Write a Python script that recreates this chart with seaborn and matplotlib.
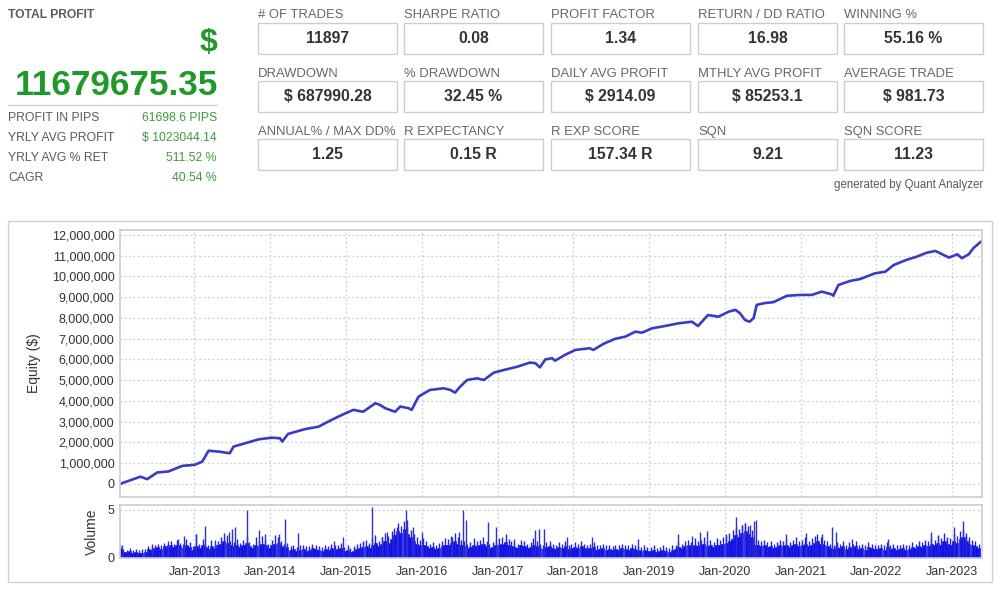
import matplotlib
matplotlib.use("Agg")
import matplotlib.pyplot as plt
import matplotlib.dates as mdates
from matplotlib.patches import Rectangle
from matplotlib.lines import Line2D
from matplotlib.ticker import FuncFormatter, FixedLocator
import seaborn as sns
import pandas as pd
import numpy as np

# ---------------- data ----------------
total_profit = "11679675.35"
summary_labels = ["PROFIT IN PIPS", "YRLY AVG PROFIT", "YRLY AVG % RET", "CAGR"]
summary_values = ["61698.6 PIPS", "$ 1023044.14", "511.52 %", "40.54 %"]

stat_labels = [
    ["# OF TRADES", "SHARPE RATIO", "PROFIT FACTOR", "RETURN / DD RATIO", "WINNING %"],
    ["DRAWDOWN", "% DRAWDOWN", "DAILY AVG PROFIT", "MTHLY AVG PROFIT", "AVERAGE TRADE"],
    ["ANNUAL% / MAX DD%", "R EXPECTANCY", "R EXP SCORE", "SQN", "SQN SCORE"],
]
stat_values = [
    ["11897", "0.08", "1.34", "16.98", "55.16 %"],
    ["$ 687990.28", "32.45 %", "$ 2914.09", "$ 85253.1", "$ 981.73"],
    ["1.25", "0.15 R", "157.34 R", "9.21", "11.23"],
]

equity_dates = [
    "2012-01-08", "2012-04-15", "2012-05-18", "2012-07-05", "2012-08-28", "2012-11-03",
    "2013-01-01", "2013-02-07", "2013-03-10", "2013-04-27", "2013-06-20", "2013-07-08",
    "2013-09-02", "2013-11-07", "2014-01-08", "2014-02-17", "2014-02-28", "2014-03-28",
    "2014-06-17", "2014-08-22", "2014-10-01", "2014-11-10", "2014-12-20", "2015-02-06",
    "2015-03-25", "2015-05-23", "2015-06-14", "2015-07-09", "2015-08-26", "2015-09-20",
    "2015-10-30", "2015-11-14", "2015-12-17", "2016-02-10", "2016-04-16", "2016-05-19",
    "2016-06-10", "2016-07-05", "2016-08-07", "2016-09-24", "2016-10-27", "2016-12-13",
    "2017-01-30", "2017-04-06", "2017-06-07", "2017-07-02", "2017-07-24", "2017-08-19",
    "2017-09-21", "2017-10-05", "2017-11-22", "2018-01-11", "2018-03-21", "2018-04-08",
    "2018-05-26", "2018-07-20", "2018-09-09", "2018-10-27", "2018-11-28", "2019-01-15",
    "2019-03-18", "2019-05-22", "2019-07-27", "2019-08-25", "2019-10-12", "2019-12-02",
    "2020-01-19", "2020-02-21", "2020-03-14", "2020-04-08", "2020-04-30", "2020-05-19",
    "2020-06-03", "2020-07-13", "2020-08-22", "2020-10-27", "2020-12-28", "2021-02-24",
    "2021-04-13", "2021-05-30", "2021-06-07", "2021-07-02", "2021-08-26", "2021-10-16",
    "2021-12-24", "2022-02-13", "2022-03-25", "2022-05-26", "2022-07-16", "2022-09-02",
    "2022-10-12", "2022-11-14", "2022-12-17", "2023-01-26", "2023-02-17", "2023-03-22",
    "2023-04-13", "2023-05-20",
]
equity_millions = [
    0.00, 0.35, 0.23, 0.55, 0.60, 0.87,
    0.92, 1.07, 1.60, 1.56, 1.48, 1.80,
    1.96, 2.15, 2.23, 2.20, 2.04, 2.41,
    2.64, 2.76, 2.97, 3.17, 3.36, 3.57,
    3.48, 3.89, 3.81, 3.65, 3.48, 3.73,
    3.65, 3.57, 4.21, 4.53, 4.61, 4.53,
    4.40, 4.69, 5.01, 5.09, 5.01, 5.36,
    5.49, 5.65, 5.85, 5.82, 5.62, 6.00,
    6.06, 5.94, 6.22, 6.46, 6.54, 6.46,
    6.75, 6.99, 7.10, 7.34, 7.29, 7.50,
    7.61, 7.74, 7.82, 7.61, 8.14, 8.06,
    8.30, 8.39, 8.23, 7.90, 7.82, 7.99,
    8.63, 8.72, 8.76, 9.07, 9.11, 9.11,
    9.27, 9.14, 9.07, 9.59, 9.78, 9.88,
    10.15, 10.23, 10.55, 10.80, 10.96, 11.15,
    11.23, 11.07, 10.91, 11.07, 10.88, 11.07,
    11.36, 11.68,
]

# semi-monthly base (dense) volume level, Jan-2012 .. May-2023
vol_2012 = [1.0, 0.6, 0.6, 0.7, 0.5, 0.6, 0.5, 0.5, 0.6, 0.9, 0.8, 1.0, 1.1, 0.9, 1.2, 1.0, 1.3, 1.1, 1.4, 1.2, 1.0, 1.3, 1.1, 0.8]
vol_2013 = [1.2, 1.0, 1.3, 1.1, 0.9, 1.2, 1.0, 1.3, 1.5, 1.8, 1.6, 1.3, 1.2, 1.4, 1.1, 1.3, 1.6, 1.2, 1.0, 1.4, 1.2, 1.5, 1.3, 1.0]
vol_2014 = [1.3, 1.5, 1.6, 1.2, 1.0, 1.1, 0.8, 0.9, 0.7, 0.8, 0.9, 0.7, 0.8, 1.0, 0.9, 0.8, 0.7, 0.9, 0.8, 1.0, 0.8, 0.9, 1.0, 0.7]
vol_2015 = [0.8, 0.6, 0.7, 0.9, 1.0, 1.1, 1.2, 1.0, 1.4, 1.6, 1.2, 1.5, 1.8, 1.6, 2.0, 2.4, 2.8, 2.6, 3.0, 2.5, 2.2, 1.8, 1.5, 1.3]
vol_2016 = [1.4, 1.2, 1.0, 1.1, 0.9, 1.0, 1.2, 1.4, 1.3, 1.6, 1.8, 1.5, 1.3, 1.2, 1.0, 1.1, 1.4, 1.2, 1.3, 1.5, 1.2, 1.0, 1.1, 1.3]
vol_2017 = [1.4, 1.5, 1.7, 1.3, 1.2, 1.1, 1.0, 1.3, 1.2, 1.0, 1.1, 1.4, 1.2, 1.0, 0.9, 1.1, 1.2, 1.0, 0.9, 1.1, 1.0, 1.2, 0.9, 1.0]
vol_2018 = [1.1, 1.0, 1.2, 1.0, 0.9, 1.0, 1.1, 0.8, 0.9, 1.0, 0.8, 0.9, 0.8, 0.9, 0.8, 1.0, 0.9, 0.8, 1.0, 0.9, 0.8, 0.7, 0.8, 0.7]
vol_2019 = [0.7, 0.8, 0.6, 0.7, 0.8, 0.7, 0.6, 0.8, 0.9, 1.1, 1.0, 1.2, 1.3, 1.1, 1.4, 1.2, 1.3, 1.5, 1.2, 1.3, 1.1, 1.4, 1.3, 1.5]
vol_2020 = [1.6, 1.8, 2.0, 2.4, 2.2, 2.6, 2.8, 2.5, 2.2, 1.4, 1.3, 1.2, 1.3, 1.1, 1.2, 1.0, 1.1, 1.3, 1.2, 1.4, 1.1, 1.3, 1.5, 1.2]
vol_2021 = [1.3, 1.5, 1.2, 1.4, 1.6, 1.8, 1.5, 1.3, 1.2, 1.0, 0.9, 1.1, 1.0, 1.2, 0.9, 1.1, 1.0, 1.2, 0.9, 1.0, 0.8, 1.1, 1.0, 0.9]
vol_2022 = [0.9, 1.0, 0.8, 1.1, 0.9, 1.0, 0.8, 0.9, 1.0, 0.8, 0.9, 1.1, 1.0, 1.2, 1.1, 1.3, 1.2, 1.5, 1.3, 1.6, 1.4, 1.8, 1.5, 1.4]
vol_2023 = [1.8, 1.6, 2.0, 2.2, 1.8, 1.5, 1.3, 1.2, 1.0]

# semi-monthly peak (tallest trade) in each half-month
peak_2012 = [1.3, 0.9, 0.8, 1.0, 0.8, 0.9, 0.8, 0.9, 0.9, 1.2, 1.1, 1.4, 1.5, 1.3, 1.6, 1.4, 1.8, 1.5, 1.9, 1.6, 1.5, 2.0, 1.7, 1.2]
peak_2013 = [2.5, 1.5, 2.0, 1.6, 1.4, 1.9, 1.5, 1.8, 2.2, 2.6, 2.4, 1.8, 1.7, 2.0, 1.6, 1.9, 2.3, 1.7, 1.5, 2.2, 1.8, 2.3, 1.9, 1.5]
peak_2014 = [1.9, 2.4, 2.2, 1.8, 1.5, 1.6, 1.2, 1.4, 1.1, 1.3, 1.4, 1.2, 1.2, 1.5, 1.4, 1.2, 1.1, 1.4, 1.2, 1.5, 1.3, 1.4, 1.6, 1.1]
peak_2015 = [1.3, 1.0, 1.2, 1.5, 1.6, 1.8, 1.9, 1.6, 2.1, 2.4, 1.8, 2.2, 2.6, 2.3, 2.8, 3.1, 3.6, 3.3, 3.8, 3.2, 2.9, 2.5, 2.2, 1.9]
peak_2016 = [2.1, 1.8, 1.5, 1.7, 1.4, 1.6, 1.8, 2.1, 2.0, 2.3, 2.6, 2.2, 1.9, 1.8, 1.5, 1.7, 2.1, 1.8, 1.9, 2.2, 1.8, 1.5, 1.7, 1.9]
peak_2017 = [2.1, 2.2, 2.5, 2.0, 1.8, 1.7, 1.5, 1.9, 1.8, 1.5, 1.7, 2.1, 1.8, 1.5, 1.4, 1.7, 1.8, 1.5, 1.4, 1.7, 1.5, 1.8, 1.4, 1.5]
peak_2018 = [1.7, 1.5, 1.8, 1.5, 1.4, 1.5, 1.7, 1.3, 1.4, 1.5, 1.3, 1.4, 1.2, 1.4, 1.3, 1.5, 1.4, 1.3, 1.5, 1.4, 1.2, 1.1, 1.3, 1.1]
peak_2019 = [1.1, 1.3, 1.0, 1.1, 1.3, 1.1, 1.0, 1.3, 1.4, 1.7, 1.5, 1.8, 1.9, 1.7, 2.1, 1.8, 1.9, 2.2, 1.8, 1.9, 1.7, 2.1, 1.9, 2.2]
peak_2020 = [2.3, 2.6, 2.9, 3.2, 3.0, 3.4, 3.6, 3.3, 2.9, 2.0, 1.9, 1.8, 1.9, 1.7, 1.8, 1.5, 1.7, 1.9, 1.8, 2.0, 1.7, 1.9, 2.2, 1.8]
peak_2021 = [1.9, 2.2, 1.8, 2.1, 2.3, 2.5, 2.2, 1.9, 1.8, 1.5, 1.4, 1.7, 1.5, 1.8, 1.4, 1.7, 1.5, 1.8, 1.4, 1.5, 1.3, 1.7, 1.5, 1.4]
peak_2022 = [1.4, 1.5, 1.3, 1.7, 1.4, 1.5, 1.3, 1.4, 1.5, 1.3, 1.4, 1.7, 1.5, 1.8, 1.7, 1.9, 1.8, 2.2, 1.9, 2.3, 2.1, 2.6, 2.2, 2.1]
peak_2023 = [2.6, 2.3, 2.8, 3.0, 2.6, 2.2, 1.9, 1.8, 1.5]

# the tallest individual spikes
spike_dates = [
    "2012-01-19", "2012-06-10", "2012-08-28", "2012-10-15", "2012-11-10", "2013-01-08",
    "2013-02-21", "2013-04-10", "2013-06-17", "2013-07-02", "2013-07-13", "2013-09-13",
    "2013-11-07", "2013-12-09", "2014-02-13", "2014-03-14", "2014-05-16", "2014-11-03",
    "2014-12-20", "2015-03-22", "2015-05-05", "2015-06-25", "2015-07-20", "2015-09-06",
    "2015-10-16", "2015-10-23", "2015-11-18", "2016-01-05", "2016-05-27", "2016-06-28",
    "2016-07-16", "2016-07-31", "2016-11-14", "2016-12-24", "2017-03-22", "2017-06-28",
    "2017-07-20", "2017-08-15", "2017-12-02", "2018-04-01", "2018-11-10", "2019-05-22",
    "2019-07-27", "2019-09-06", "2019-10-08", "2020-01-05", "2020-02-24", "2020-03-25",
    "2020-04-08", "2020-05-04", "2020-05-19", "2020-05-30", "2020-10-20", "2021-01-26",
    "2021-04-16", "2021-06-03", "2021-06-18", "2021-09-06", "2022-02-24", "2022-09-20",
    "2022-10-23", "2023-01-12", "2023-02-21", "2023-03-07",
]
spike_heights = [
    1.3, 1.5, 1.8, 2.0, 2.3, 2.5,
    3.3, 1.9, 2.7, 3.0, 3.2, 5.0,
    2.9, 2.5, 2.5, 4.0, 2.6, 1.8,
    2.2, 1.7, 5.3, 2.2, 2.7, 3.2,
    5.0, 3.9, 3.2, 2.7, 2.2, 2.7,
    5.0, 3.9, 3.7, 3.2, 2.0, 2.9,
    3.0, 3.0, 2.2, 2.2, 2.0, 2.5,
    2.3, 2.7, 2.8, 2.5, 4.3, 3.4,
    3.6, 3.4, 3.8, 3.9, 2.5, 2.6,
    2.5, 3.2, 2.7, 2.0, 2.0, 2.7,
    2.4, 3.2, 3.8, 2.2,
]

year_ticks = ["2013-01-01", "2014-01-01", "2015-01-01", "2016-01-01", "2017-01-01", "2018-01-01",
              "2019-01-01", "2020-01-01", "2021-01-01", "2022-01-01", "2023-01-01"]

# ---------------- figure ----------------
sns.set_theme(style="white")
plt.rcParams["font.family"] = ["Liberation Sans", "DejaVu Sans"]

W, H = 1000, 592
fig = plt.figure(figsize=(W / 100, H / 100), dpi=100)
fig.patch.set_facecolor("white")


def fx(x):
    return x / W


def fy(y):
    return 1 - y / H


GREEN = "#1f9a29"
GREEN2 = "#3c9c3c"
GRAY = "#5a5a5a"

# left summary panel
fig.text(fx(8), fy(15), "TOTAL PROFIT", fontsize=8.7, fontweight="bold", color=GRAY, va="center", ha="left")
fig.text(fx(217), fy(43), "$", fontsize=23, fontweight="bold", color=GREEN, va="center", ha="right")
fig.text(fx(218), fy(85), total_profit, fontsize=25.3, fontweight="bold", color=GREEN, va="center", ha="right")
fig.add_artist(Line2D([fx(8), fx(217)], [fy(105), fy(105)], color="#d0d0d0", lw=1))
for i, (lab, val) in enumerate(zip(summary_labels, summary_values)):
    y = 118 + 20 * i
    fig.text(fx(8), fy(y), lab, fontsize=8.8, color=GRAY, va="center", ha="left")
    fig.text(fx(217), fy(y), val, fontsize=8.8, color=GREEN2, va="center", ha="right")

# stat boxes
box_lefts = [258, 404, 551, 698, 844]
box_w = 139
label_ys = [15, 74, 132]
box_tops = [23, 81, 139]
box_h = 31
for r in range(3):
    for c in range(5):
        x0 = box_lefts[c]
        fig.text(fx(x0), fy(label_ys[r]), stat_labels[r][c], fontsize=9.4, color="#666666", va="center", ha="left")
        fig.add_artist(Rectangle((fx(x0), fy(box_tops[r] + box_h)), box_w / W, box_h / H,
                                 facecolor="white", edgecolor="#cccccc", lw=1))
        fig.text(fx(x0 + box_w / 2), fy(box_tops[r] + box_h / 2), stat_values[r][c], fontsize=11.3,
                 fontweight="bold", color="#333333", va="center", ha="center")
fig.text(fx(983), fy(185), "generated by Quant Analyzer", fontsize=8.3, color=GRAY, va="center", ha="right")

# chart panel border
fig.add_artist(Rectangle((fx(8), fy(582)), 984 / W, 361 / H, facecolor="none", edgecolor="#d0d0d0", lw=1))

ax_eq = fig.add_axes([fx(120), fy(497), 862 / W, 267 / H])
ax_vol = fig.add_axes([fx(120), fy(558), 862 / W, 53 / H], sharex=ax_eq)

df_eq = pd.DataFrame({"date": pd.to_datetime(equity_dates), "equity": np.array(equity_millions) * 1e6})
sns.lineplot(data=df_eq, x="date", y="equity", ax=ax_eq, color="#3a3ac4", linewidth=1.9)

vol_all = vol_2012 + vol_2013 + vol_2014 + vol_2015 + vol_2016 + vol_2017 + vol_2018 + vol_2019 + \
    vol_2020 + vol_2021 + vol_2022 + vol_2023
peak_all = peak_2012 + peak_2013 + peak_2014 + peak_2015 + peak_2016 + peak_2017 + peak_2018 + \
    peak_2019 + peak_2020 + peak_2021 + peak_2022 + peak_2023
vol_dates = pd.date_range("2012-01-01", periods=len(vol_all), freq="SMS")
ax_vol.bar(vol_dates, vol_all, width=15.2, align="edge", color="#0c0ce8", edgecolor="#0c0ce8", linewidth=0.4)
ax_vol.vlines(vol_dates + pd.Timedelta(days=8), 0, peak_all, color="#2020e0", lw=1.0)
ax_vol.vlines(pd.to_datetime(spike_dates), 0, spike_heights, color="#3030d0", lw=1.0)

xmin, xmax = pd.Timestamp("2012-01-08"), pd.Timestamp("2023-05-25")
ticks = pd.to_datetime(year_ticks)
for ax in (ax_eq, ax_vol):
    ax.set_xlim(xmin, xmax)
    ax.set_facecolor("white")
    for s in ax.spines.values():
        s.set_color("#cccccc")
        s.set_linewidth(1.2)
    ax.xaxis.set_major_locator(FixedLocator(mdates.date2num(ticks)))
    ax.grid(True, which="major", color="#cfcfcf", linestyle=(0, (1.5, 2)), linewidth=0.9)
    ax.tick_params(length=0, labelsize=9, colors="#333333", pad=4)
    ax.set_xlabel("")

ax_eq.set_ylim(-630000, 12240000)
ax_eq.yaxis.set_major_locator(FixedLocator(np.arange(0, 12000001, 1000000)))
ax_eq.yaxis.set_major_formatter(FuncFormatter(lambda v, p: f"{v:,.0f}"))
ax_eq.set_ylabel("Equity ($)", fontsize=10, color="#333333")
ax_eq.tick_params(axis="x", labelbottom=False)

ax_vol.set_ylim(0, 5.5)
ax_vol.yaxis.set_major_locator(FixedLocator([0, 5]))
ax_vol.yaxis.set_major_formatter(FuncFormatter(lambda v, p: f"{v:.0f}"))
ax_vol.xaxis.set_major_formatter(mdates.DateFormatter("%b-%Y"))
ax_vol.set_ylabel("Volume", fontsize=10, color="#333333")
ax_vol.tick_params(axis="x", pad=6)

ax_eq.yaxis.set_label_coords(-0.092, 0.5)
ax_vol.yaxis.set_label_coords(-0.025, 0.5)

fig.savefig("out.png", dpi=100, facecolor="white")
